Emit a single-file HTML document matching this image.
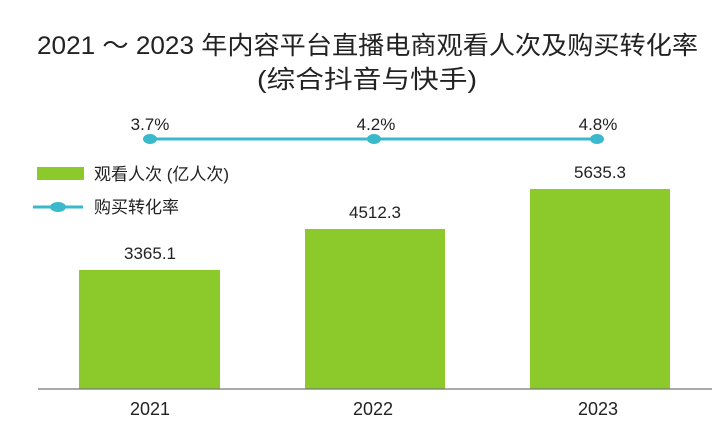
<!DOCTYPE html>
<html><head><meta charset="utf-8"><style>
html,body{margin:0;padding:0;background:#fff;}
svg{display:block;}
text{font-family:"Liberation Sans","Noto Sans CJK SC",sans-serif;fill:#222;}
</style></head><body>
<svg width="717" height="425" viewBox="0 0 717 425">
<text x="37" y="54" font-size="25" textLength="661" lengthAdjust="spacingAndGlyphs">2021 ～ 2023 年内容平台直播电商观看人次及购买转化率</text>
<text x="367" y="88" font-size="25" text-anchor="middle" textLength="220" lengthAdjust="spacingAndGlyphs">(综合抖音与快手)</text>
<line x1="148" y1="139" x2="598" y2="139" stroke="#3bb9cc" stroke-width="3"/>
<ellipse cx="150" cy="139" rx="7" ry="5" fill="#3bb9cc"/>
<ellipse cx="374" cy="139" rx="7" ry="5" fill="#3bb9cc"/>
<ellipse cx="597" cy="139" rx="7" ry="5" fill="#3bb9cc"/>
<g font-size="17" text-anchor="middle">
<text x="150" y="130">3.7%</text>
<text x="376" y="130">4.2%</text>
<text x="598" y="130">4.8%</text>
</g>
<rect x="37" y="167" width="47" height="13" fill="#8cc92b"/>
<text x="94" y="180" font-size="17">观看人次 (亿人次)</text>
<line x1="33" y1="207" x2="83" y2="207" stroke="#3bb9cc" stroke-width="3"/>
<ellipse cx="58" cy="207" rx="8" ry="5" fill="#3bb9cc"/>
<text x="94" y="213" font-size="17">购买转化率</text>
<rect x="79" y="270" width="141" height="119" fill="#8cc92b"/>
<rect x="305" y="229" width="140" height="160" fill="#8cc92b"/>
<rect x="530" y="189" width="140" height="200" fill="#8cc92b"/>
<g font-size="17" text-anchor="middle">
<text x="150" y="259">3365.1</text>
<text x="375" y="218">4512.3</text>
<text x="600" y="178">5635.3</text>
</g>
<line x1="38" y1="389" x2="712" y2="389" stroke="#777" stroke-width="1.2"/>
<g font-size="18" text-anchor="middle" style="font-family:'Liberation Serif',serif">
<text x="150" y="415">2021</text>
<text x="373" y="415">2022</text>
<text x="598" y="415">2023</text>
</g>
</svg>
</body></html>
